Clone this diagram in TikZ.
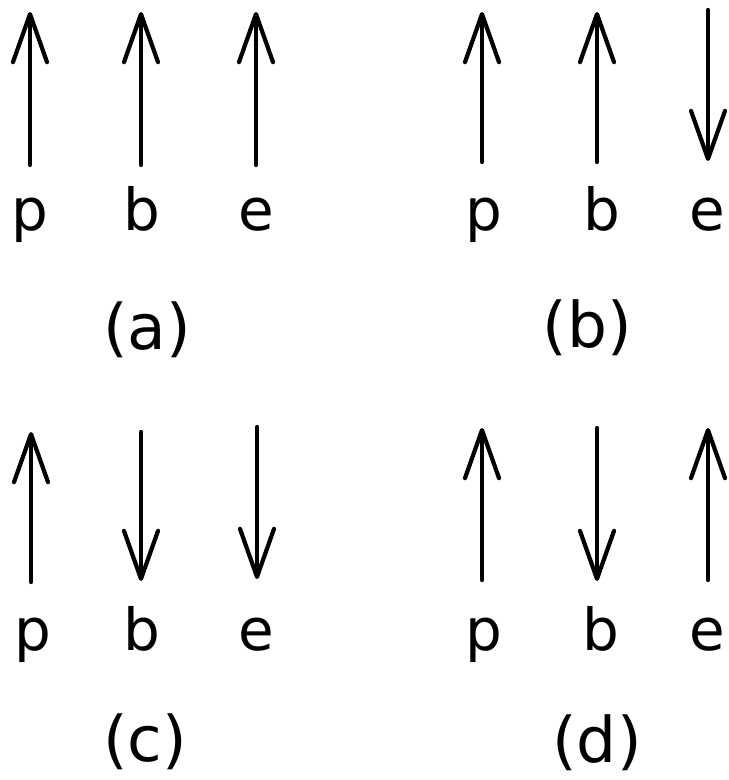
\documentclass[tikz,border=0pt]{standalone}
\usepackage{fontspec}
\setmainfont{DejaVu Sans}
\usetikzlibrary{arrows.meta}
\begin{document}
\begin{tikzpicture}[x=1pt,y=-1pt,
  vec/.style={line width=4.2pt,line cap=round,-{Straight Barb[length=48pt,width=34pt,round]}},
  lbl/.style={anchor=base,inner sep=0pt,font=\fontsize{58}{70}\selectfont},
  caplbl/.style={anchor=base,inner sep=0pt,font=\fontsize{63}{75}\selectfont}]
\useasboundingbox (0,0) rectangle (729,780);
% panel (a)
\node[lbl] (ap) at (30,230) {p};
\node[lbl] (ab) at (142,230) {b};
\node[lbl] (ae) at (256,230) {e};
\node[caplbl] (acap) at (147,349) {(a)};
\coordinate (ap1) at (30,165); \coordinate (ap2) at (30,12);
\coordinate (ab1) at (141,165); \coordinate (ab2) at (141,12);
\coordinate (ae1) at (256,165); \coordinate (ae2) at (256,12);
\draw[vec] (ap1) -- (ap2);
\draw[vec] (ab1) -- (ab2);
\draw[vec] (ae1) -- (ae2);
% panel (b)
\node[lbl] (bp) at (484,230) {p};
\node[lbl] (bb) at (602,230) {b};
\node[lbl] (be) at (707,230) {e};
\node[caplbl] (bcap) at (587,347) {(b)};
\coordinate (bp1) at (482,162); \coordinate (bp2) at (482,12);
\coordinate (bb1) at (597,162); \coordinate (bb2) at (597,12);
\coordinate (be1) at (708,10); \coordinate (be2) at (708,161);
\draw[vec] (bp1) -- (bp2);
\draw[vec] (bb1) -- (bb2);
\draw[vec] (be1) -- (be2);
% panel (c)
\node[lbl] (cp) at (33,650) {p};
\node[lbl] (cb) at (142,650) {b};
\node[lbl] (ce) at (256,650) {e};
\node[caplbl] (ccap) at (145,761) {(c)};
\coordinate (cp1) at (31,582); \coordinate (cp2) at (31,432);
\coordinate (cb1) at (141,432); \coordinate (cb2) at (141,581);
\coordinate (ce1) at (257,427); \coordinate (ce2) at (257,579);
\draw[vec] (cp1) -- (cp2);
\draw[vec] (cb1) -- (cb2);
\draw[vec] (ce1) -- (ce2);
% panel (d)
\node[lbl] (dp) at (484,650) {p};
\node[lbl] (db) at (601,650) {b};
\node[lbl] (de) at (707,650) {e};
\node[caplbl] (dcap) at (597,762) {(d)};
\coordinate (dp1) at (482,580); \coordinate (dp2) at (482,428);
\coordinate (db1) at (597,428); \coordinate (db2) at (597,581);
\coordinate (de1) at (708,580); \coordinate (de2) at (708,428);
\draw[vec] (dp1) -- (dp2);
\draw[vec] (db1) -- (db2);
\draw[vec] (de1) -- (de2);
\end{tikzpicture}
\end{document}
